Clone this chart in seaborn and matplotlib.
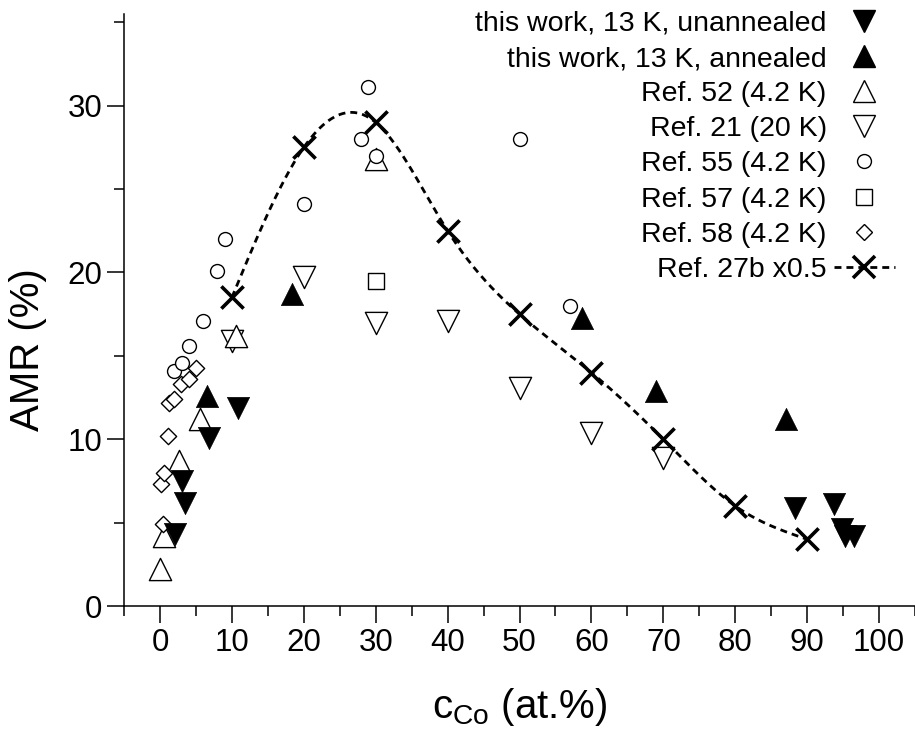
# AMR vs Co concentration: this work compared with literature data

import numpy as np
import matplotlib
matplotlib.use('Agg')
import matplotlib.pyplot as plt
from matplotlib.lines import Line2D
from matplotlib.ticker import MultipleLocator
import seaborn as sns

# --- data (x = c_Co in at.%, y = AMR in %) ---
unann_x = [2.1, 3.0, 3.5, 6.8, 10.8, 88.3, 93.7, 94.9, 95.2, 96.5]
unann_y = [4.3, 7.5, 6.2, 10.1, 11.9, 5.9, 6.1, 4.6, 4.2, 4.2]

ann_x = [6.5, 18.4, 58.7, 69.0, 87.1]
ann_y = [12.6, 18.7, 17.3, 12.9, 11.2]

ref52_x = [0.0, 0.5, 2.6, 5.5, 10.6, 30.0]
ref52_y = [2.2, 4.2, 8.7, 11.2, 16.2, 26.8]

ref21_x = [10.0, 20.0, 30.0, 40.0, 50.0, 60.0, 70.0]
ref21_y = [15.9, 19.7, 17.0, 17.1, 13.1, 10.4, 8.9]

ref55_x = [2.0, 3.0, 4.0, 6.0, 8.0, 9.0, 20.0, 28.0, 29.0, 30.0, 50.0, 57.0]
ref55_y = [14.1, 14.6, 15.6, 17.1, 20.1, 22.0, 24.1, 28.0, 31.1, 27.0, 28.0, 18.0]

ref57_x = [30.0]
ref57_y = [19.5]

ref58_x = [0.4, 0.2, 0.6, 1.1, 1.2, 2.0, 2.9, 4.1, 5.0]
ref58_y = [4.9, 7.3, 8.0, 10.2, 12.2, 12.4, 13.3, 13.6, 14.3]

ref27_x = [10, 20, 30, 40, 50, 60, 70, 80, 90]
ref27_y = [18.5, 27.5, 29.0, 22.5, 17.5, 14.0, 10.0, 6.0, 4.0]

labels = ['this work, 13 K, unannealed', 'this work, 13 K, annealed',
          'Ref. 52 (4.2 K)', 'Ref. 21 (20 K)', 'Ref. 55 (4.2 K)',
          'Ref. 57 (4.2 K)', 'Ref. 58 (4.2 K)', 'Ref. 27b x0.5']


def natural_spline(x, y, n=400):
    # smooth connecting curve through the Ref. 27b points (like Origin's spline line)
    x = np.asarray(x, float)
    y = np.asarray(y, float)
    h = np.diff(x)
    k = len(x)
    A = np.zeros((k, k))
    b = np.zeros(k)
    A[0, 0] = A[-1, -1] = 1
    for i in range(1, k - 1):
        A[i, i - 1] = h[i - 1]
        A[i, i] = 2 * (h[i - 1] + h[i])
        A[i, i + 1] = h[i]
        b[i] = 3 * ((y[i + 1] - y[i]) / h[i] - (y[i] - y[i - 1]) / h[i - 1])
    c = np.linalg.solve(A, b)
    bc = (y[1:] - y[:-1]) / h - h * (2 * c[:-1] + c[1:]) / 3
    dc = (c[1:] - c[:-1]) / (3 * h)
    xs = np.linspace(x[0], x[-1], n)
    idx = np.clip(np.searchsorted(x, xs) - 1, 0, k - 2)
    dx = xs - x[idx]
    ys = y[idx] + bc[idx] * dx + c[idx] * dx ** 2 + dc[idx] * dx ** 3
    return xs, ys


sns.set_style('ticks', rc={'axes.edgecolor': 'black', 'xtick.color': 'black',
                           'ytick.color': 'black', 'text.color': 'black',
                           'axes.labelcolor': 'black'})
plt.rcParams['font.family'] = ['Liberation Sans', 'DejaVu Sans']
plt.rcParams['mathtext.fontset'] = 'custom'
plt.rcParams['mathtext.rm'] = 'Liberation Sans'
plt.rcParams['mathtext.it'] = 'Liberation Sans:italic'

W, H = 915, 733
fig = plt.figure(figsize=(W / 100, H / 100), dpi=100)
# axes box in pixels: left spine x=124, bottom spine y=606, top y=14
ax_l, ax_r, ax_b, ax_t = 124, 915, 606, 14
ax = fig.add_axes([ax_l / W, 1 - ax_b / H, (ax_r - ax_l) / W, (ax_b - ax_t) / H])

dash = (0, (2.5, 1.8))

# open symbols (white faces), then filled ones
sns.scatterplot(x=ref21_x, y=ref21_y, marker='v', s=16 ** 2, color='white',
                edgecolor='black', linewidth=1.0, ax=ax, zorder=3, legend=False)
sns.scatterplot(x=ref52_x, y=ref52_y, marker='^', s=16 ** 2, color='white',
                edgecolor='black', linewidth=1.0, ax=ax, zorder=3, legend=False)
sns.scatterplot(x=ref55_x, y=ref55_y, marker='o', s=10 ** 2, color='white',
                edgecolor='black', linewidth=1.0, ax=ax, zorder=3, legend=False)
sns.scatterplot(x=ref57_x, y=ref57_y, marker='s', s=11.5 ** 2, color='white',
                edgecolor='black', linewidth=1.0, ax=ax, zorder=3, legend=False)
sns.scatterplot(x=ref58_x, y=ref58_y, marker='D', s=8.3 ** 2, color='white',
                edgecolor='black', linewidth=1.0, ax=ax, zorder=3, legend=False)
sns.scatterplot(x=ann_x, y=ann_y, marker='^', s=16 ** 2, color='black',
                edgecolor='black', linewidth=0.5, ax=ax, zorder=4, legend=False)
sns.scatterplot(x=unann_x, y=unann_y, marker='v', s=16 ** 2, color='black',
                edgecolor='black', linewidth=0.5, ax=ax, zorder=4, legend=False)

# Ref. 27b: spline dashed line + crosses
sx, sy = natural_spline(ref27_x, ref27_y)
sns.lineplot(x=sx, y=sy, color='black', linewidth=2.0, linestyle=dash,
             ax=ax, zorder=5, legend=False)
sns.scatterplot(x=ref27_x, y=ref27_y, marker='x', s=16 ** 2, color='black',
                linewidth=2.6, ax=ax, zorder=6, legend=False)

ax.set_xlim(-5, 105)
ax.set_ylim(0, 35.5)
ax.set_xticks(range(0, 101, 10))
ax.set_yticks([0, 10, 20, 30])
ax.xaxis.set_minor_locator(MultipleLocator(5))
ax.yaxis.set_minor_locator(MultipleLocator(5))
ax.tick_params(which='major', direction='out', length=12, width=1.1,
               labelsize=22.5, pad=3.5)
ax.tick_params(which='minor', direction='out', length=7, width=1.1)
sns.despine(ax=ax)
for sp in ['left', 'bottom']:
    ax.spines[sp].set_linewidth(1.1)

ax_h = ax_b - ax_t
ax_w = ax_r - ax_l
ax.set_xlabel(r'c$_{\mathrm{Co}}$ (at.%)', fontsize=29)
ax.xaxis.set_label_coords(0.5, -(686 - ax_b) / ax_h)
ax.set_ylabel('AMR (%)', fontsize=29)
ax.yaxis.set_label_coords((47 - ax_l) / ax_w, (ax_b - 350) / ax_h)

handles = [
    Line2D([], [], ls='none', marker='v', ms=16, mfc='black', mec='black'),
    Line2D([], [], ls='none', marker='^', ms=16, mfc='black', mec='black'),
    Line2D([], [], ls='none', marker='^', ms=16, mfc='white', mec='black', mew=1.0),
    Line2D([], [], ls='none', marker='v', ms=16, mfc='white', mec='black', mew=1.0),
    Line2D([], [], ls='none', marker='o', ms=10, mfc='white', mec='black', mew=1.0),
    Line2D([], [], ls='none', marker='s', ms=11.5, mfc='white', mec='black', mew=1.0),
    Line2D([], [], ls='none', marker='D', ms=8.3, mfc='white', mec='black', mew=1.0),
    Line2D([], [], color='black', lw=2.0, ls=dash, marker='x', ms=16, mew=2.6),
]
ax.legend(handles, labels, loc='upper right', bbox_to_anchor=(895 / W, 1 - 11 / H),
          bbox_transform=fig.transFigure, markerfirst=False, frameon=False,
          fontsize=20.5, handlelength=2.15, handletextpad=0.25,
          labelspacing=0.32, borderaxespad=0, borderpad=0)

fig.savefig('out.png', dpi=100)
